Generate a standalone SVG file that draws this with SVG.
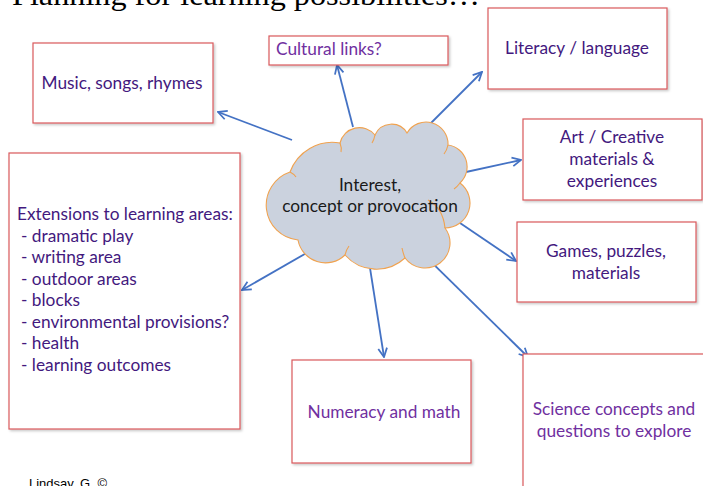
<svg xmlns="http://www.w3.org/2000/svg" width="703" height="486" viewBox="0 0 703 486">
  <defs>
    <style>
      .box { fill: #ffffff; stroke: #d9595c; stroke-width: 1.2; filter: url(#shadow); }
      .lbl { font-family: Lato, "Liberation Sans", sans-serif; font-size: 17.3px; }
      .dark { fill: #43197e; }
      .light { fill: #7030a0; }
      .mid { text-anchor: middle; }
      .link { stroke: #4472c4; stroke-width: 1.8; fill: none; marker-end: url(#head); }
      .cloud { fill: #cbd2de; stroke: #f0a24f; stroke-width: 1.1; }
      .cloudline { fill: none; stroke: #f0a24f; stroke-width: 1.1; }
    </style>
    <filter id="shadow" x="-10%" y="-10%" width="130%" height="130%">
      <feDropShadow dx="1.5" dy="1.5" stdDeviation="1.2" flood-color="#000000" flood-opacity="0.22"/>
    </filter>
    <marker id="head" viewBox="0 0 10 10" refX="9" refY="5" markerWidth="11" markerHeight="11" markerUnits="userSpaceOnUse" orient="auto">
      <path d="M1,1 L9,5 L1,9" fill="none" stroke="#4472c4" stroke-width="1.6"/>
    </marker>
  </defs>

  <rect width="703" height="486" fill="#ffffff"/>

  <!-- heading, partly above the page edge -->
  <text x="12" y="5" font-family="'Liberation Serif', serif" font-size="30" fill="#000000" textLength="468" lengthAdjust="spacingAndGlyphs">Planning for learning possibilities…</text>

  <!-- connectors -->
  <g id="connectors">
    <line class="link" x1="292" y1="140" x2="218" y2="112"/>
    <line class="link" x1="353" y1="127" x2="337" y2="65"/>
    <line class="link" x1="431" y1="123" x2="482" y2="72"/>
    <line class="link" x1="466" y1="172" x2="521" y2="160"/>
    <line class="link" x1="460" y1="223" x2="516" y2="261"/>
    <line class="link" x1="420" y1="251" x2="528" y2="357"/>
    <line class="link" x1="370" y1="268" x2="384" y2="357"/>
    <line class="link" x1="310" y1="251" x2="242" y2="290"/>
  </g>

  <!-- central cloud -->
  <g id="center">
    <path class="cloud" d="M 290,172 A 45,45 0 0 1 340,143 A 20,20 0 0 1 375,135 A 18,18 0 0 1 407,133 A 22,22 0 0 1 448,145 A 22,22 0 0 1 460,183 A 25,25 0 0 1 445,228 A 25,25 0 0 1 405,258 A 42,42 0 0 1 345,255 A 28,28 0 0 1 298,240 A 35,35 0 0 1 290,172 Z"/>
    <path class="cloudline" d="M 428,200 Q 443,208 445,228"/>
    <path class="cloudline" d="M 340,143 Q 342,148 341,152"/>
    <path class="cloudline" d="M 375,135 Q 374,140 372,143"/>
    <path class="cloudline" d="M 448,145 Q 447,150 444,154"/>
    <path class="cloudline" d="M 460,183 Q 457,187 454,189"/>
    <path class="cloudline" d="M 290,172 Q 294,174 296,177"/>
    <path class="cloudline" d="M 345,255 Q 346,250 349,246"/>
    <path class="cloudline" d="M 405,258 Q 403,253 402,248"/>
    <text class="lbl mid" x="370" y="191" fill="#1a1a1a" font-size="15.4">Interest,</text>
    <text class="lbl mid" x="370" y="212" fill="#1a1a1a" font-size="15.4">concept or provocation</text>
  </g>

  <g id="music">
    <rect class="box" x="33" y="43" width="180" height="80"/>
    <text class="lbl dark mid" x="122" y="89">Music, songs, rhymes</text>
  </g>

  <g id="cultural">
    <rect class="box" x="269" y="36" width="179" height="29"/>
    <text class="lbl light" x="276" y="55">Cultural links?</text>
  </g>

  <g id="literacy">
    <rect class="box" x="488" y="8" width="179" height="81"/>
    <text class="lbl dark mid" x="577" y="54">Literacy / language</text>
  </g>

  <g id="art">
    <rect class="box" x="523" y="119" width="179" height="81"/>
    <text class="lbl dark mid" x="612" y="143">Art / Creative</text>
    <text class="lbl dark mid" x="612" y="165">materials &amp;</text>
    <text class="lbl dark mid" x="612" y="187">experiences</text>
  </g>

  <g id="games">
    <rect class="box" x="517" y="222" width="179" height="80"/>
    <text class="lbl dark mid" x="606" y="257">Games, puzzles,</text>
    <text class="lbl dark mid" x="606" y="279">materials</text>
  </g>

  <g id="extensions">
    <rect class="box" x="9" y="153" width="231" height="276"/>
    <text class="lbl dark" x="17" y="220">Extensions to learning areas:</text>
    <text class="lbl dark" x="21" y="241.5">- dramatic play</text>
    <text class="lbl dark" x="21" y="263">- writing area</text>
    <text class="lbl dark" x="21" y="284.5">- outdoor areas</text>
    <text class="lbl dark" x="21" y="306">- blocks</text>
    <text class="lbl dark" x="21" y="327.5">- environmental provisions?</text>
    <text class="lbl dark" x="21" y="349">- health</text>
    <text class="lbl dark" x="21" y="370.5">- learning outcomes</text>
  </g>

  <g id="numeracy">
    <rect class="box" x="292" y="360" width="179" height="103"/>
    <text class="lbl light mid" x="384" y="418">Numeracy and math</text>
  </g>

  <g id="science">
    <rect class="box" x="523" y="354" width="200" height="150"/>
    <text class="lbl light mid" x="614" y="415">Science concepts and</text>
    <text class="lbl light mid" x="614" y="437">questions to explore</text>
  </g>

  <!-- credit line, partly below the page edge -->
  <text x="29" y="488" font-family="'Liberation Sans', sans-serif" font-size="13" fill="#000000">Lindsay, G. ©</text>
</svg>
